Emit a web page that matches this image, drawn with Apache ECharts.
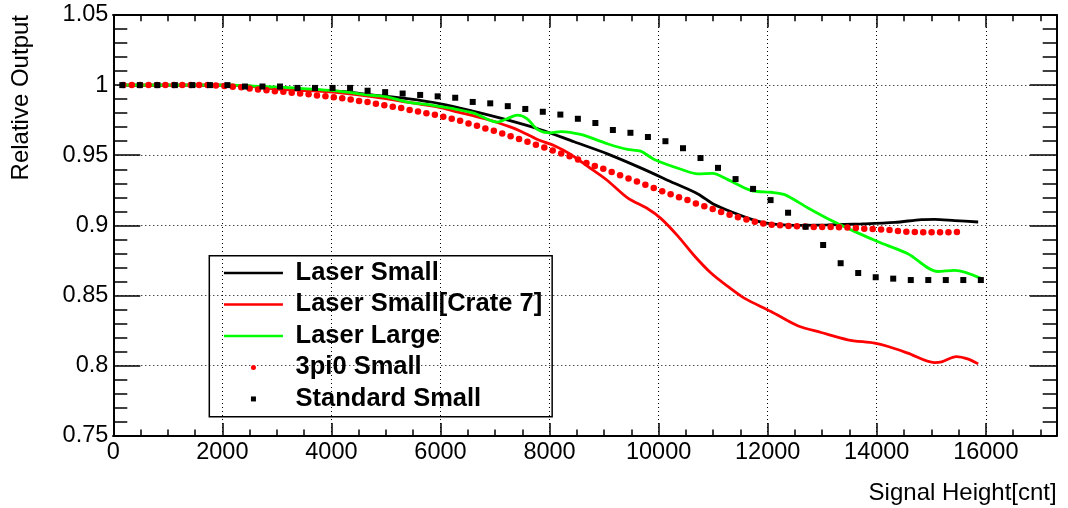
<!DOCTYPE html>
<html>
<head>
<meta charset="utf-8">
<script src="https://cdn.jsdelivr.net/npm/echarts@6.0.0/dist/echarts.min.js"></script>
<style>
html,body{margin:0;padding:0;background:#fff;}
#chart{width:1068px;height:508px;}
</style>
</head>
<body>
<div id="chart"></div>
<script>
// ---- data ----
var seriesNames = ['Laser Small', 'Laser Small[Crate 7]', 'Laser Large', '3pi0 Small', 'Standard Small'];

var laserSmallX = [160, 1000, 2150, 3000, 3430, 4165, 4775, 5390, 6000, 6610, 7225, 7840, 8450, 9060, 9670, 10290, 10720, 11020, 11390, 11760, 12060, 12490, 13100, 13720, 14330, 14820, 15060, 15430, 15860];
var laserSmallY = [1.000, 1.000, 1.000, 0.9975, 0.9970, 0.9955, 0.9929, 0.9903, 0.9867, 0.9813, 0.9752, 0.9682, 0.9596, 0.9510, 0.9410, 0.9300, 0.9224, 0.9148, 0.9088, 0.9036, 0.9010, 0.9000, 0.9003, 0.9010, 0.9021, 0.9041, 0.9043, 0.9034, 0.9024];

var crate7X = [160, 1000, 2150, 3000, 3600, 4165, 4775, 5390, 6000, 6245, 6860, 7290, 7470, 7780, 8080, 8390, 8700, 9060, 9430, 9800, 10040, 10350, 10650, 10960, 11270, 11570, 12060, 12550, 12980, 13470, 13960, 14210, 14570, 15060, 15190, 15460, 15680, 15860];
var crate7Y = [1.000, 1.000, 1.000, 0.9972, 0.9960, 0.9945, 0.9917, 0.9879, 0.9839, 0.9815, 0.9755, 0.9700, 0.9671, 0.9612, 0.9569, 0.9505, 0.9420, 0.9320, 0.9196, 0.9118, 0.9050, 0.8925, 0.8785, 0.8660, 0.8564, 0.8481, 0.8386, 0.8284, 0.8236, 0.8184, 0.8160, 0.8136, 0.8089, 0.8021, 0.8026, 0.8064, 0.8046, 0.8012];

var laserLargeX = [160, 1000, 2150, 2700, 3300, 4000, 4780, 5020, 5390, 5750, 6000, 6250, 6610, 7040, 7220, 7410, 7590, 7780, 8020, 8210, 8570, 9060, 9430, 9670, 9920, 10410, 10720, 10990, 11270, 11700, 12060, 12310, 12740, 13160, 13590, 14080, 14570, 15120, 15430, 15920];
var laserLargeY = [1.000, 1.000, 1.000, 0.9990, 0.9980, 0.9962, 0.9926, 0.9917, 0.9879, 0.9862, 0.9846, 0.9831, 0.9800, 0.9736, 0.9760, 0.9786, 0.9760, 0.9684, 0.9660, 0.9669, 0.9648, 0.9582, 0.9541, 0.9529, 0.9470, 0.9400, 0.9367, 0.9371, 0.9326, 0.9248, 0.9236, 0.9219, 0.9124, 0.9036, 0.8957, 0.8874, 0.8798, 0.8671, 0.8679, 0.8620];

var pi0X = [184, 338, 493, 647, 802, 956, 1110, 1265, 1419, 1574, 1728, 1882, 2037, 2191, 2346, 2500, 2654, 2809, 2963, 3118, 3272, 3426, 3581, 3735, 3890, 4044, 4198, 4353, 4507, 4662, 4816, 4970, 5125, 5279, 5434, 5588, 5742, 5897, 6051, 6206, 6360, 6514, 6669, 6823, 6978, 7132, 7286, 7441, 7595, 7750, 7904, 8058, 8213, 8367, 8522, 8676, 8830, 8985, 9139, 9294, 9448, 9602, 9757, 9911, 10066, 10220, 10374, 10529, 10683, 10838, 10992, 11146, 11301, 11455, 11610, 11764, 11918, 12073, 12227, 12382, 12536, 12690, 12845, 12999, 13154, 13308, 13462, 13617, 13771, 13926, 14080, 14234, 14389, 14543, 14698, 14852, 15006, 15161, 15315, 15470];
var pi0Y = [1.0000, 1.0000, 1.0000, 1.0000, 1.0000, 1.0000, 1.0000, 1.0000, 1.0000, 1.0000, 1.0000, 0.9998, 0.9994, 0.9989, 0.9984, 0.9976, 0.9969, 0.9964, 0.9957, 0.9953, 0.9946, 0.9941, 0.9934, 0.9926, 0.9920, 0.9914, 0.9907, 0.9898, 0.9886, 0.9879, 0.9868, 0.9857, 0.9846, 0.9836, 0.9822, 0.9812, 0.9799, 0.9788, 0.9774, 0.9760, 0.9746, 0.9727, 0.9710, 0.9691, 0.9674, 0.9655, 0.9636, 0.9615, 0.9597, 0.9575, 0.9555, 0.9534, 0.9512, 0.9493, 0.9469, 0.9445, 0.9424, 0.9403, 0.9381, 0.9357, 0.9334, 0.9312, 0.9289, 0.9267, 0.9243, 0.9221, 0.9200, 0.9180, 0.9155, 0.9136, 0.9117, 0.9096, 0.9076, 0.9057, 0.9041, 0.9026, 0.9014, 0.9005, 0.9000, 0.8996, 0.8993, 0.8991, 0.8989, 0.8989, 0.8989, 0.8986, 0.8984, 0.8981, 0.8976, 0.8974, 0.8971, 0.8967, 0.8960, 0.8955, 0.8953, 0.8950, 0.8950, 0.8950, 0.8950, 0.8953];

var standardX = [165, 486, 808, 1129, 1450, 1772, 2093, 2414, 2735, 3057, 3378, 3699, 4021, 4342, 4663, 4985, 5306, 5627, 5948, 6270, 6591, 6912, 7234, 7555, 7876, 8198, 8519, 8840, 9161, 9483, 9804, 10125, 10447, 10768, 11089, 11411, 11732, 12053, 12374, 12696, 13017, 13338, 13660, 13981, 14302, 14624, 14945, 15266, 15587, 15909];
var standardY = [1.000, 1.000, 1.000, 1.000, 1.000, 1.000, 1.000, 0.999, 0.999, 0.999, 0.998, 0.998, 0.998, 0.998, 0.996, 0.995, 0.994, 0.993, 0.992, 0.991, 0.988, 0.987, 0.985, 0.983, 0.981, 0.979, 0.976, 0.973, 0.968, 0.966, 0.963, 0.960, 0.955, 0.948, 0.941, 0.933, 0.926, 0.918, 0.909, 0.899, 0.886, 0.873, 0.866, 0.863, 0.862, 0.861, 0.861, 0.861, 0.861, 0.861];

var xMin = 0, xMax = 17300, xMajor = 2000, xMinor = 500;
var yMin = 0.75, yMax = 1.05, yMajor = 0.05;
var xTitle = 'Signal Height[cnt]';
var yTitle = 'Relative Output';

function zip(xs, ys) { return xs.map(function (x, i) { return [x, ys[i]]; }); }

var FONT = 'Liberation Sans';
var dotted = { color: '#000', width: 1, type: [1, 3] };
var frameLine = { show: true, onZero: false, lineStyle: { color: '#000', width: 2 } };

function xAx(pos, interval, tickLen, withLabels, withSplit, name) {
  var a = {
    type: 'value', position: pos, min: xMin, max: xMax, interval: interval,
    axisLine: frameLine,
    axisTick: { show: true, inside: true, length: tickLen, lineStyle: { color: '#000', width: 1.5 } },
    axisLabel: withLabels ? {
      show: true, color: '#000', fontFamily: FONT, fontSize: 23.5, margin: 5,
      formatter: function (v) { return (v % xMajor === 0) ? String(v) : ''; }
    } : { show: false },
    splitLine: withSplit ? { show: true, lineStyle: dotted } : { show: false }
  };
  if (name) {
    a.name = name; a.nameLocation = 'end'; a.nameGap = 0;
    a.nameTextStyle = { color: '#000', fontFamily: FONT, fontSize: 24, align: 'right', verticalAlign: 'top', padding: [46, 0, 0, 0] };
  }
  return a;
}
function yAx(pos, withLabels, withSplit, name) {
  var a = {
    type: 'value', position: pos, min: yMin, max: yMax, interval: yMajor,
    axisLine: frameLine,
    axisTick: { show: true, inside: true, length: 27, lineStyle: { color: '#000', width: 1.5 } },
    minorTick: { show: true, splitNumber: 5, length: 14, lineStyle: { color: '#000', width: 1.5 } },
    axisLabel: withLabels ? { show: true, color: '#000', fontFamily: FONT, fontSize: 23.5, margin: 5 } : { show: false },
    splitLine: withSplit ? { show: true, lineStyle: dotted } : { show: false }
  };
  if (name) {
    a.name = name; a.nameLocation = 'end'; a.nameGap = 0; a.nameRotate = 90;
    a.nameTextStyle = { color: '#000', fontFamily: FONT, fontSize: 24, align: 'right', verticalAlign: 'bottom', padding: [0, 0, 80, 0] };
  }
  return a;
}

var noSymbol = { color: 'rgba(0,0,0,0)', opacity: 0 };
// small centred square inside a 59x5 icon box (move-to points fix the bounding box)
var squareIcon = 'path://M0,0M59,5M27,0h5v5h-5z';

var chart = echarts.init(document.getElementById('chart'), null, { renderer: 'canvas' });
chart.setOption({
  animation: false,
  backgroundColor: '#fff',
  grid: { left: 113.3, right: 11.3, top: 15, bottom: 72.3, containLabel: false },
  xAxis: [
    xAx('bottom', xMajor, 12.6, true, true, xTitle),
    xAx('bottom', xMinor, 6.3, false, false),
    xAx('top', xMajor, 12.6, false, false),
    xAx('top', xMinor, 6.3, false, false)
  ],
  yAxis: [
    yAx('left', true, true, yTitle),
    yAx('right', false, false)
  ],
  legend: {
    orient: 'vertical', left: 209.3, top: 255.7,
    itemWidth: 59, itemHeight: 5, itemGap: 0,
    padding: [1.5, 10, 2, 13.4],
    borderColor: '#000', borderWidth: 1.5, backgroundColor: 'transparent',
    selectedMode: false,
    textStyle: { fontFamily: FONT, fontWeight: 'bold', fontSize: 25.5, color: '#000', lineHeight: 31.5, padding: [0, 0, 0, 7.6] },
    data: [
      { name: seriesNames[0], itemStyle: noSymbol, lineStyle: { color: '#000', width: 2.5 } },
      { name: seriesNames[1], itemStyle: noSymbol, lineStyle: { color: '#ff0000', width: 2.5 } },
      { name: seriesNames[2], itemStyle: noSymbol, lineStyle: { color: '#00ff00', width: 2.5 } },
      { name: seriesNames[3], icon: 'circle' },
      { name: seriesNames[4], icon: squareIcon, itemStyle: { color: '#000' } }
    ]
  },
  series: [
    { name: seriesNames[0], type: 'line', xAxisIndex: 0, yAxisIndex: 0, data: zip(laserSmallX, laserSmallY), symbol: 'none', smooth: 0.3, lineStyle: { color: '#000', width: 2.8 }, itemStyle: { color: '#000' }, z: 2 },
    { name: seriesNames[1], type: 'line', xAxisIndex: 0, yAxisIndex: 0, data: zip(crate7X, crate7Y), symbol: 'none', smooth: 0.3, lineStyle: { color: '#ff0000', width: 2.8 }, itemStyle: { color: '#ff0000' }, z: 3 },
    { name: seriesNames[2], type: 'line', xAxisIndex: 0, yAxisIndex: 0, data: zip(laserLargeX, laserLargeY), symbol: 'none', smooth: 0.3, lineStyle: { color: '#00ff00', width: 2.8 }, itemStyle: { color: '#00ff00' }, z: 4 },
    { name: seriesNames[3], type: 'scatter', xAxisIndex: 0, yAxisIndex: 0, data: zip(pi0X, pi0Y), symbol: 'circle', symbolSize: 6.5, itemStyle: { color: '#ff0000', opacity: 1 }, z: 5 },
    { name: seriesNames[4], type: 'scatter', xAxisIndex: 0, yAxisIndex: 0, data: zip(standardX, standardY), symbol: 'rect', symbolSize: 6, itemStyle: { color: '#000', opacity: 1 }, z: 6 }
  ]
});
</script>
</body>
</html>
